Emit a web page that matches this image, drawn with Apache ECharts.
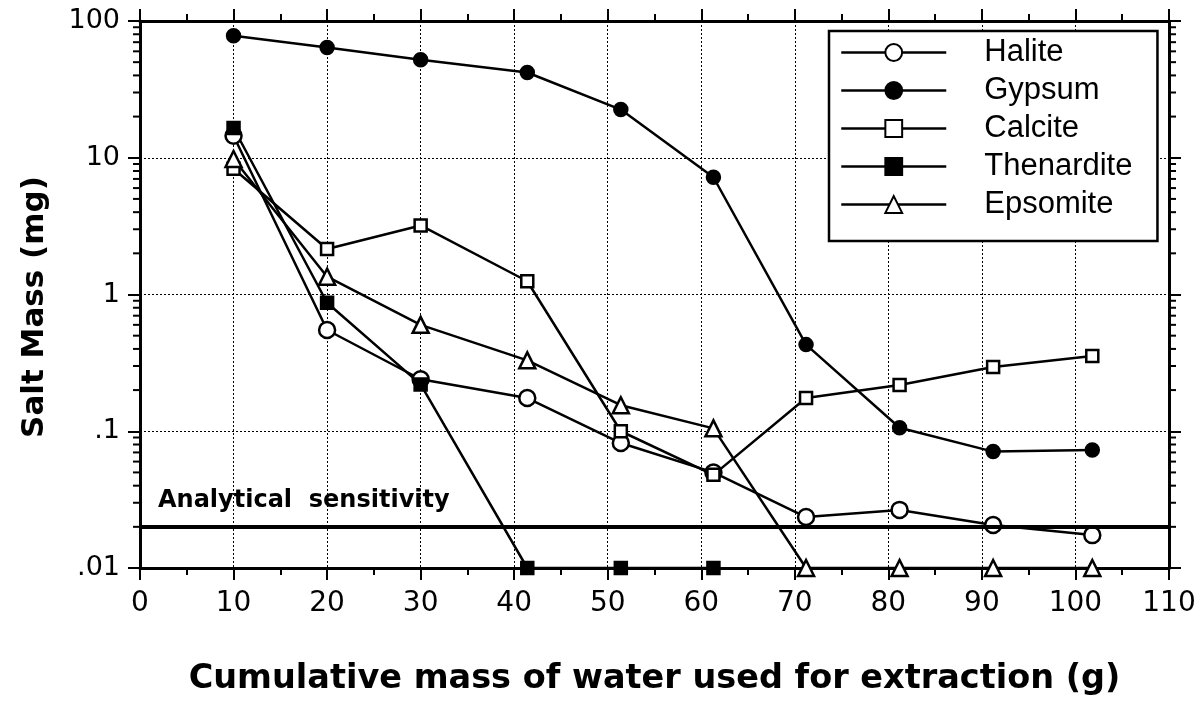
<!DOCTYPE html>
<html>
<head>
<meta charset="utf-8">
<script src="https://cdn.jsdelivr.net/npm/echarts@6/dist/echarts.min.js"></script>
<style>
  html, body { margin: 0; padding: 0; background: #fff; }
  #chart { width: 1200px; height: 701px; }
</style>
</head>
<body>
<div id="chart"></div>
<script>
// Cumulative water mass (g) at each extraction step
const xValues = [10, 20, 30, 41.4, 51.4, 61.3, 71.2, 81.2, 91.2, 101.8];

// Salt mass recovered per extraction (mg)
const halite     = [14.5, 0.55, 0.24, 0.175, 0.082, 0.050, 0.0236, 0.0266, 0.0206, 0.0174];
const gypsum     = [78, 64, 52, 42, 22.5, 7.2, 0.43, 0.106, 0.071, 0.073];
const calcite    = [8.3, 2.15, 3.2, 1.25, 0.100, 0.048, 0.175, 0.218, 0.295, 0.355];
const thenardite = [16.5, 0.87, 0.22, 0.01, 0.01, 0.01];
const epsomite   = [9.8, 1.35, 0.60, 0.33, 0.155, 0.105, 0.01, 0.01, 0.01, 0.01];

// Detection limit of the analysis (mg)
const sensitivity = 0.019;

const seriesNames = ['Halite', 'Gypsum', 'Calcite', 'Thenardite', 'Epsomite'];

// Log-axis minor tick positions (2..9 within each decade)
const minorMultipliers = [2, 3, 4, 5, 6, 7, 8, 9];
const decades = [0.01, 0.1, 1, 10];
const yMinorTicks = [];
decades.forEach(d => minorMultipliers.forEach(m => yMinorTicks.push(Number((d * m).toPrecision(3)))));

const pairs = ys => ys.map((y, i) => [xValues[i], y]);

const tickFont = 'DejaVu Sans';
const boldFont = 'DejaVu Sans';

function lineSeries(name, values, symbol, size, filled) {
  return {
    name: name,
    type: 'line',
    data: pairs(values),
    symbol: symbol,
    symbolSize: size,
    showAllSymbol: true,
    lineStyle: { color: '#000', width: 2.5 },
    itemStyle: {
      color: filled ? '#000' : '#fff',
      borderColor: '#000',
      borderWidth: 2.5
    },
    emphasis: { disabled: true },
    z: 3
  };
}

const gridLine = { show: true, lineStyle: { color: '#000', width: 1, type: [2, 2] } };

const chart = echarts.init(document.getElementById('chart'));

const option = {
  animation: false,
  backgroundColor: '#fff',
  grid: { left: 140, right: 31, top: 21, bottom: 133 },
  legend: {
    data: seriesNames,
    orient: 'vertical',
    left: 829,
    top: 31,
    padding: [6, 25, 21, 11],
    itemWidth: 105,
    itemHeight: 21,
    itemGap: 7,
    backgroundColor: '#fff',
    borderColor: '#000',
    borderWidth: 2.5,
    borderRadius: 0,
    selectedMode: false,
    lineStyle: { color: '#000', width: 2.5 },
    textStyle: {
      fontFamily: 'Liberation Sans',
      fontSize: 31,
      color: '#000',
      padding: [0, 0, 0, 33]
    }
  },
  xAxis: [
    {
      type: 'value',
      min: 0,
      max: 110,
      interval: 10,
      position: 'bottom',
      axisLine: { show: true, onZero: false, lineStyle: { color: '#000', width: 3 } },
      axisTick: { show: true, inside: false, length: 12, lineStyle: { color: '#000', width: 2 } },
      minorTick: { show: true, splitNumber: 2, length: 7, lineStyle: { color: '#000', width: 2 } },
      axisLabel: { fontFamily: tickFont, fontSize: 28, color: '#000', margin: 22 },
      splitLine: gridLine,
      name: 'Cumulative mass of water used for extraction (g)',
      nameLocation: 'middle',
      nameGap: 94,
      nameTextStyle: { fontFamily: boldFont, fontWeight: 'bold', fontSize: 33.5, color: '#000' }
    },
    {
      type: 'value',
      min: 0,
      max: 110,
      interval: 10,
      position: 'top',
      axisLine: { show: true, onZero: false, lineStyle: { color: '#000', width: 3 } },
      axisTick: { show: true, inside: false, length: 12, lineStyle: { color: '#000', width: 2 } },
      minorTick: { show: true, splitNumber: 2, length: 7, lineStyle: { color: '#000', width: 2 } },
      axisLabel: { show: false },
      splitLine: { show: false }
    }
  ],
  yAxis: [
    {
      type: 'log',
      logBase: 10,
      min: 0.01,
      max: 100,
      position: 'left',
      axisLine: { show: true, onZero: false, lineStyle: { color: '#000', width: 3 } },
      axisTick: { show: true, inside: false, length: 12, lineStyle: { color: '#000', width: 2 } },
      axisLabel: {
        fontFamily: tickFont,
        fontSize: 27,
        color: '#000',
        margin: 20,
        formatter: v => {
          const n = Number(v.toPrecision(3));
          return n < 1 ? String(n).replace(/^0/, '') : String(n);
        }
      },
      splitLine: gridLine
    },
    {
      type: 'log',
      logBase: 10,
      min: 0.01,
      max: 100,
      position: 'right',
      axisLine: { show: true, onZero: false, lineStyle: { color: '#000', width: 3 } },
      axisTick: { show: true, inside: false, length: 12, lineStyle: { color: '#000', width: 2 } },
      axisLabel: { show: false },
      splitLine: { show: false }
    }
  ],
  graphic: [
    {
      type: 'text',
      x: 35,
      y: 307,
      rotation: Math.PI / 2,
      style: {
        text: 'Salt Mass (mg)',
        fontFamily: boldFont,
        fontWeight: 'bold',
        fontSize: 31,
        fill: '#000',
        align: 'center',
        verticalAlign: 'middle'
      }
    }
  ],
  series: [
    Object.assign(lineSeries('Halite', halite, 'circle', 16, false), {
      markLine: {
        silent: true,
        symbol: 'none',
        z: 4,
        lineStyle: { color: '#000', width: 4, type: 'solid' },
        label: {
          show: true,
          position: 'insideStartTop',
          distance: [18, 14],
          formatter: 'Analytical  sensitivity',
          fontFamily: boldFont,
          fontWeight: 'bold',
          fontSize: 24,
          color: '#000'
        },
        data: [{ yAxis: sensitivity }]
      }
    }),
    lineSeries('Gypsum', gypsum, 'circle', 13, true),
    lineSeries('Calcite', calcite, 'rect', 12, false),
    lineSeries('Thenardite', thenardite, 'rect', 12, true),
    lineSeries('Epsomite', epsomite, 'triangle', 16, false),
    {
      type: 'custom',
      coordinateSystem: 'cartesian2d',
      silent: true,
      clip: false,
      z: 5,
      data: yMinorTicks.map(v => [0, v]),
      renderItem: function (params, api) {
        const v = api.value(1);
        const l = api.coord([0, v]);
        const r = api.coord([110, v]);
        const st = { stroke: '#000', lineWidth: 2 };
        return {
          type: 'group',
          children: [
            { type: 'line', shape: { x1: l[0] - 7, y1: l[1], x2: l[0], y2: l[1] }, style: st },
            { type: 'line', shape: { x1: r[0], y1: r[1], x2: r[0] + 7, y2: r[1] }, style: st }
          ]
        };
      }
    }
  ]
};

chart.setOption(option);
</script>
</body>
</html>
